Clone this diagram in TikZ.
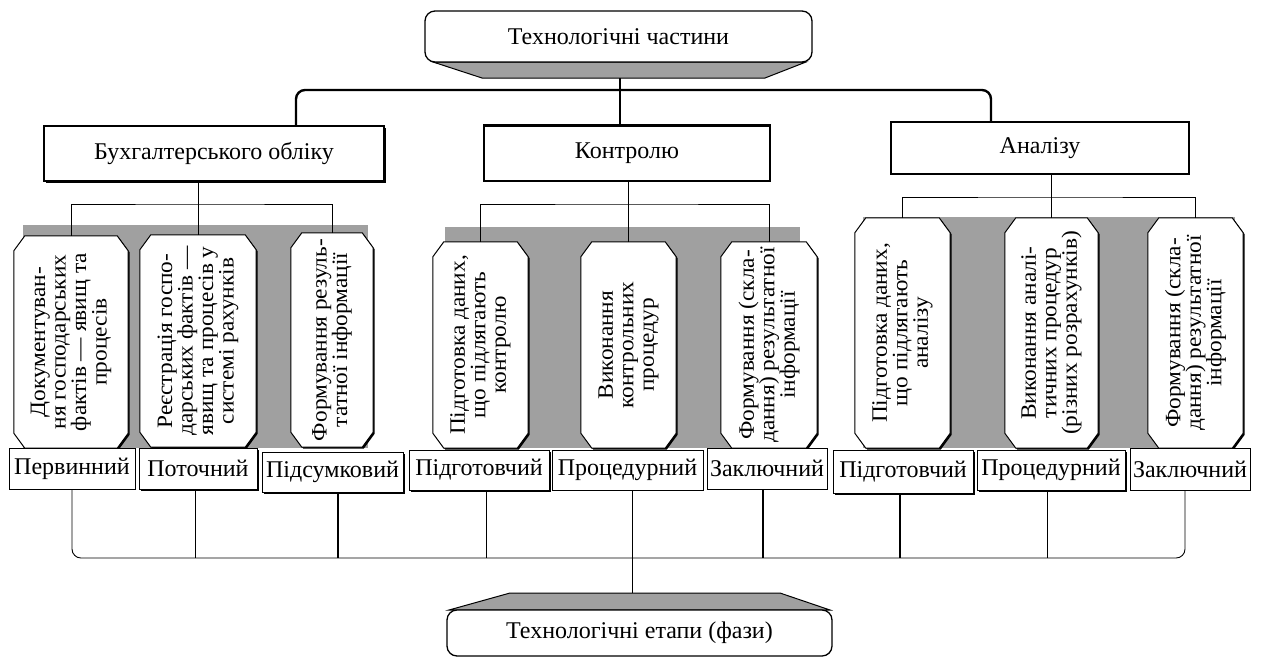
\documentclass[tikz,border=0pt]{standalone}
\usepackage{fontspec}
\setmainfont{Liberation Serif}
\newfontfamily\octfam[FakeStretch=1.06]{Liberation Serif}
\usetikzlibrary{shadows}
\definecolor{bggray}{RGB}{160,160,160}
\newcommand\lblfont{\fontsize{24}{26}\selectfont}
\newcommand\octfont{\octfam\fontsize{22}{20.5}\selectfont}
\newcommand\octo[1]{%
 \fill[black] ([shift={(12.5pt,-1.5pt)}]#1.north west) -- ([shift={(-9.5pt,-1.5pt)}]#1.north east) -- ([shift={(1.5pt,-16.5pt)}]#1.north east) -- ([shift={(1.5pt,13.5pt)}]#1.south east) -- ([shift={(-9.5pt,-1.5pt)}]#1.south east) -- ([shift={(12.5pt,-1.5pt)}]#1.south west) -- ([shift={(1.5pt,13.5pt)}]#1.south west) -- ([shift={(1.5pt,-16.5pt)}]#1.north west) -- cycle;
 \filldraw[fill=white,line width=1pt] ([xshift=11pt]#1.north west) -- ([xshift=-11pt]#1.north east) -- ([yshift=-15pt]#1.north east) -- ([yshift=15pt]#1.south east) -- ([xshift=-11pt]#1.south east) -- ([xshift=11pt]#1.south west) -- ([yshift=15pt]#1.south west) -- ([yshift=-15pt]#1.north west) -- cycle;}
\begin{document}
\begin{tikzpicture}[x=1pt,y=1pt,
 box/.style={draw, fill=white, line width=1.2pt, inner sep=0pt, font=\lblfont},
 lab/.style={draw, fill=white, line width=1pt, inner sep=0pt, font=\lblfont},
 shad/.style={drop shadow={shadow xshift=1.8pt, shadow yshift=-1.8pt, fill=black, opacity=1}},
 frame/.style={inner sep=0pt, draw=none},
 otext/.style={rotate=90, align=center, font=\octfont, inner sep=0pt},
 thinc/.style={line width=0.9pt},
 thickc/.style={line width=2pt},
 topc/.style={line width=2.4pt},
 shadowfill/.style={fill=bggray, draw=black, line width=1pt},
 endnode/.style={draw, fill=white, line width=1.3pt, rounded corners=10pt, inner sep=0pt, font=\lblfont}
]
\useasboundingbox (0,0) rectangle (1268,-657);

% ---------- top node ----------
\filldraw[shadowfill] (433,-62) -- (806,-62) -- (765,-78) -- (482,-78) -- cycle;
\node[endnode, minimum width=387pt, minimum height=51pt] (top) at (618.5,-36.5) {Технологічні частини};

% ---------- second level ----------
\node[box, shad, minimum width=340pt, minimum height=55pt] (buh) at (214,-153.5) {Бухгалтерського обліку};
\node[box, minimum width=286pt, minimum height=55pt] (kon) at (627,-153.5) {Контролю};
\draw[line width=3pt] (kon.north west) -- (kon.north east);
\node[box, minimum width=298pt, minimum height=52pt] (ana) at (1040,-148) {Аналізу};

\coordinate (tsb) at (620,-78);
\coordinate (hl) at (296,-90);
\coordinate (hr) at (991,-90);
\draw[topc] (tsb) -- (tsb |- kon.north);
\draw[topc, rounded corners=9pt] (buh.north -| hl) -- (hl) -- (hr) -- (ana.north -| hr);

% ---------- grey backgrounds ----------
\fill[bggray] (23,-225) rectangle (368,-448);
\fill[bggray] (445,-227) rectangle (800,-448);
\fill[bggray] (863,-217) rectangle (1235,-448);

% ---------- octagon frames ----------
\node[frame, minimum width=114pt, minimum height=212pt] (o11) at (71,-342) {};
\node[frame, minimum width=116pt, minimum height=212pt] (o12) at (198,-341) {};
\node[frame, minimum width=82pt, minimum height=214pt] (o13) at (332,-340) {};
\node[frame, minimum width=95pt, minimum height=206pt] (o21) at (480.5,-345) {};
\node[frame, minimum width=95pt, minimum height=206pt] (o22) at (628.5,-345) {};
\node[frame, minimum width=96pt, minimum height=206pt] (o23) at (769,-345) {};
\node[frame, minimum width=95pt, minimum height=230pt] (o31) at (902.5,-333) {};
\node[frame, minimum width=93pt, minimum height=230pt] (o32) at (1051.5,-333) {};
\node[frame, minimum width=95pt, minimum height=230pt] (o33) at (1195.5,-333) {};

\octo{o11}\octo{o12}\octo{o13}
\octo{o21}\octo{o22}\octo{o23}
\octo{o31}\octo{o32}\octo{o33}

\node[otext] (t11) at (o11.center) {Документуван-\\ня господарських\\фактів — явищ та\\процесів};
\node[otext] (t12) at (o12.center) {Реєстрація госпо-\\дарських фактів —\\явищ та процесів у\\системі рахунків};
\node[otext] (t13) at (o13.center) {Формування резуль-\\татної інформації};
\node[otext] (t21) at (o21.center) {Підготовка даних,\\що підлягають\\контролю};
\node[otext] (t22) at (o22.center) {Виконання\\контрольних\\процедур};
\node[otext] (t23) at (o23.center) {Формування (скла-\\дання) результатної\\інформації};
\node[otext] (t31) at (o31.center) {Підготовка даних,\\що підлягають\\аналізу};
\node[otext] (t32) at (o32.center) {Виконання аналі-\\тичних процедур\\(різних розрахунків)};
\node[otext] (t33) at (o33.center) {Формування (скла-\\дання) результатної\\інформації};

% ---------- brackets to octagons ----------
\coordinate (g1) at (0,-204);
\coordinate (g2) at (0,-204);
\coordinate (g3) at (0,-197);
\draw[thinc] (o12.north |- buh.south) -- (o12.north);
\draw[thinc] (o11.north) |- (o12.north |- g1) -| (o13.north);
\draw[thinc] (o22.north |- kon.south) -- (o22.north);
\draw[thinc] (o21.north) |- (o22.north |- g2) -| (o23.north);
\draw[thinc] (o32.north |- ana.south) -- (o32.north);
\draw[thinc] (o31.north) |- (o32.north |- g3) -| (o33.north);

% ---------- phase labels ----------
\node[lab, minimum width=126pt, minimum height=41pt] (l1) at (72,-468.5) {Первинний};
\node[lab, shad, minimum width=118pt, minimum height=41pt] (l2) at (198,-468.5) {Поточний};
\node[lab, shad, minimum width=141pt, minimum height=40pt] (l3) at (332.5,-472) {Підсумковий};
\node[lab, shad, minimum width=140pt, minimum height=40pt] (l4) at (479,-470) {Підготовчий};
\node[lab, minimum width=151pt, minimum height=40pt] (l5) at (627.5,-470) {Процедурний};
\node[lab, minimum width=120pt, minimum height=41pt] (l6) at (767,-468.5) {Заключний};
\node[lab, shad, minimum width=140pt, minimum height=43pt] (l7) at (903,-471.5) {Підготовчий};
\node[lab, shad, minimum width=148pt, minimum height=40pt] (l8) at (1051,-470) {Процедурний};
\node[lab, minimum width=120pt, minimum height=42pt] (l9) at (1190,-469) {Заключний};

% ---------- bottom node ----------
\filldraw[shadowfill] (510,-593) -- (780,-593) -- (830,-610) -- (449,-610) -- cycle;
\node[endnode, minimum width=385pt, minimum height=46pt] (bot) at (639.5,-633) {Технологічні етапи (фази)};

% ---------- bottom connectors ----------
\coordinate (bl) at (632,-558);
\coordinate (bst) at (632,-593);
\draw[thinc, rounded corners=9pt] (l1.south) |- (bl) -| ([xshift=-5pt]l9.south);
\draw[thinc] ([xshift=-3pt]l2.south) -- ([xshift=-3pt]l2.south |- bl);
\draw[thickc] ([xshift=5pt]l3.south) -- ([xshift=5pt]l3.south |- bl);
\draw[thinc] ([xshift=7pt]l4.south) -- ([xshift=7pt]l4.south |- bl);
\draw[thinc] (l5.south -| bst) -- (bst);
\draw[thickc] ([xshift=-4pt]l6.south) -- ([xshift=-4pt]l6.south |- bl);
\draw[thickc] ([xshift=-3pt]l7.south) -- ([xshift=-3pt]l7.south |- bl);
\draw[thinc] ([xshift=-4pt]l8.south) -- ([xshift=-4pt]l8.south |- bl);
\end{tikzpicture}
\end{document}
